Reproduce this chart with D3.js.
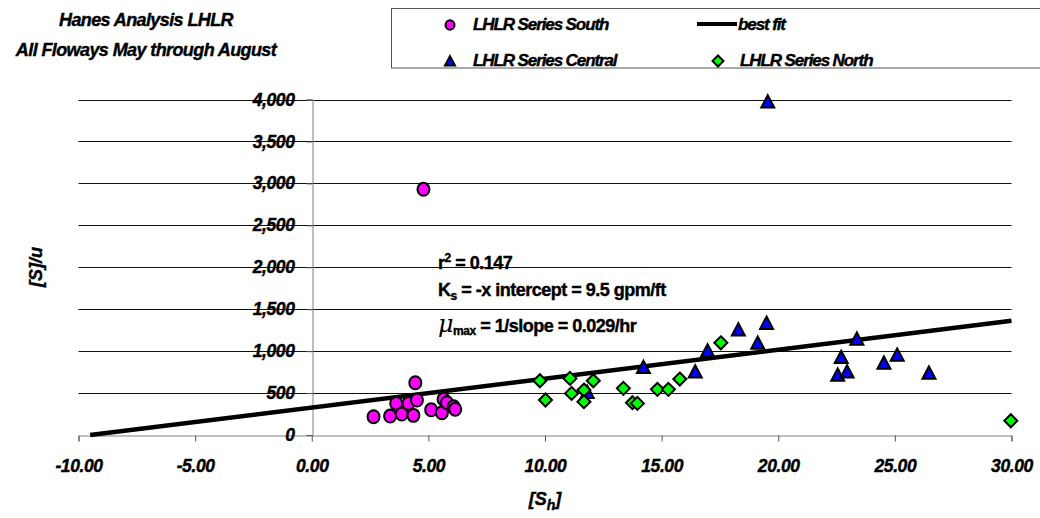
<!DOCTYPE html>
<html>
<head>
<meta charset="utf-8">
<script src="https://cdn.jsdelivr.net/npm/d3@7"></script>
<style>
  body { margin: 0; background: #fff; }
  text { font-family: "Liberation Sans", Arial, sans-serif; font-weight: bold; font-style: italic; fill: #000; stroke: #000; stroke-width: 0.4px; }
  text.up { font-style: normal; }
</style>
</head>
<body>
<svg id="chart" width="1040" height="518"></svg>
<script>
// data
var southX = [2.65, 3.36, 3.62, 3.86, 4.15, 4.36, 4.44, 4.51, 4.79, 5.12, 5.58, 5.65, 5.8, 6.08, 6.15];
var southY = [218, 226, 377, 250, 377, 234, 623, 417, 2929, 300, 265, 425, 385, 337, 306];

var centralX = [11.81, 14.22, 16.44, 16.97, 18.29, 19.12, 19.5, 19.55, 22.55, 22.7, 22.95, 23.37, 24.53, 25.1, 26.46];
var centralY = [496, 794, 742, 992, 1242, 1083, 1321, 3960, 702, 913, 742, 1131, 845, 940, 726];

var northX = [9.78, 10.02, 11.07, 11.14, 11.67, 11.67, 12.07, 13.36, 13.75, 13.96, 14.82, 15.29, 15.78, 17.54, 29.97];
var northY = [647, 417, 675, 496, 536, 397, 647, 556, 385, 377, 544, 544, 667, 1099, 170];

var fitX = [-9.5, 30];
var fitY = [0, 1362];

var xTicks = [-10, -5, 0, 5, 10, 15, 20, 25, 30];
var yTicks = [0, 500, 1000, 1500, 2000, 2500, 3000, 3500, 4000];

var svg = d3.select("#chart");

var x = d3.scaleLinear().domain([-10, 30]).range([78.5, 1011.5]);
var y = d3.scaleLinear().domain([0, 4000]).range([435, 99.5]);

// gridlines
svg.append("g").selectAll("line").data(yTicks.slice(1)).enter().append("line")
  .attr("x1", x(-10)).attr("x2", x(30))
  .attr("y1", function(d){ return Math.round(y(d)) + 0.5; })
  .attr("y2", function(d){ return Math.round(y(d)) + 0.5; })
  .attr("stroke", "#111").attr("stroke-width", 1);

var fmtX = d3.format(".2f");

// x axis
var xAxis = svg.append("g")
  .attr("transform", "translate(0," + (Math.round(y(0)) + 0.5) + ")")
  .call(d3.axisBottom(x).tickValues(xTicks).tickSize(6).tickPadding(18)
    .tickFormat(function(d){ return fmtX(d).replace("\u2212", "-"); }));
xAxis.select(".domain").attr("stroke", "#808080");
xAxis.selectAll(".tick line").attr("stroke", "#555");
xAxis.selectAll(".tick text").attr("font-size", 17.5).attr("font-family", null).attr("letter-spacing", -0.4);

// y axis crossing at x = 0
var yAxis = svg.append("g")
  .attr("transform", "translate(" + (Math.round(x(0)) + 0.5) + ",0)")
  .call(d3.axisLeft(y).tickValues(yTicks).tickSize(6).tickPadding(12)
    .tickFormat(d3.format(",")));
yAxis.select(".domain").attr("stroke", "#808080");
yAxis.selectAll(".tick line").attr("stroke", "#555");
yAxis.selectAll(".tick text").attr("font-size", 17.5).attr("font-family", null).attr("letter-spacing", -0.4);

// axis titles
svg.append("text").attr("x", x(10)).attr("y", 505).attr("text-anchor", "middle")
  .attr("font-size", 18)
  .html('[S<tspan font-size="14" dy="5">h</tspan><tspan dy="-5">]</tspan>');
svg.append("text").attr("transform", "translate(42,267) rotate(-90)")
  .attr("text-anchor", "middle").attr("font-size", 18).text("[S]/u");

// best fit line
svg.append("line")
  .attr("x1", x(fitX[0])).attr("y1", y(fitY[0]))
  .attr("x2", x(fitX[1])).attr("y2", y(fitY[1]))
  .attr("stroke", "#000").attr("stroke-width", 4.5);

// marker shapes
function circlePath(s){ var r = s / 2; return "M" + (-r) + ",0a" + r + "," + (r * 1.08) + " 0 1,0 " + (2 * r) + ",0a" + r + "," + (r * 1.08) + " 0 1,0 " + (-2 * r) + ",0Z"; }
function triPath(s){ var h = s * 0.95; return "M0," + (-h * 0.62) + "L" + (s / 2) + "," + (h * 0.38) + "L" + (-s / 2) + "," + (h * 0.38) + "Z"; }
function diaPath(s){ var r = s / 2; return "M0," + (-r) + "L" + r + ",0L0," + r + "L" + (-r) + ",0Z"; }

function drawSeries(xs, ys, shape, size, fill){
  svg.append("g").selectAll("path").data(d3.zip(xs, ys)).enter().append("path")
    .attr("d", shape(size))
    .attr("transform", function(d){ return "translate(" + x(d[0]) + "," + y(d[1]) + ")"; })
    .attr("fill", fill).attr("stroke", "#000").attr("stroke-width", 2);
}
drawSeries(southX, southY, circlePath, 12, "#ff00ff");
drawSeries(centralX, centralY, triPath, 13, "#0000ff");
drawSeries(northX, northY, diaPath, 13, "#00ff00");

// fit annotation
var ann = svg.append("g").attr("font-size", 18);
ann.append("text").attr("class", "up").attr("x", 438).attr("y", 269).attr("letter-spacing", -0.5)
  .html('r<tspan font-size="12" dy="-7">2</tspan><tspan dy="7"> = 0.147</tspan>');
ann.append("text").attr("class", "up").attr("x", 438).attr("y", 296).attr("letter-spacing", -0.5)
  .html('K<tspan font-size="12" dy="4">s</tspan><tspan dy="-4"> = -x intercept = 9.5 gpm/ft</tspan>');
ann.append("text").attr("class", "up").attr("x", 438).attr("y", 332).attr("letter-spacing", -0.5)
  .html('<tspan font-size="24" font-weight="normal" font-style="italic" font-family="DejaVu Serif" stroke-width="0">μ</tspan><tspan font-size="12" dy="3">max</tspan><tspan dy="-3"> = 1/slope = 0.029/hr</tspan>');

// title
svg.append("text").attr("x", 146).attr("y", 26).attr("text-anchor", "middle")
  .attr("font-size", 18).attr("letter-spacing", -0.6).text("Hanes Analysis LHLR");
svg.append("text").attr("x", 146).attr("y", 56).attr("text-anchor", "middle")
  .attr("font-size", 18).attr("letter-spacing", -0.6).text("All Floways May through August");

// legend
var leg = svg.append("g");
leg.append("rect").attr("x", 391.5).attr("y", 8.5).attr("width", 660).attr("height", 59.5)
  .attr("fill", "#fff").attr("stroke", "#555").attr("stroke-width", 1);
leg.append("path").attr("d", circlePath(9)).attr("transform", "translate(450,25)")
  .attr("fill", "#ff00ff").attr("stroke", "#000").attr("stroke-width", 2);
leg.append("path").attr("d", triPath(10)).attr("transform", "translate(450,62)")
  .attr("fill", "#0000ff").attr("stroke", "#000").attr("stroke-width", 2);
leg.append("path").attr("d", diaPath(11)).attr("transform", "translate(718,61)")
  .attr("fill", "#00ff00").attr("stroke", "#000").attr("stroke-width", 2);
leg.append("line").attr("x1", 697).attr("x2", 737).attr("y1", 24).attr("y2", 24)
  .attr("stroke", "#000").attr("stroke-width", 4);
var legText = [["LHLR Series South", 473, 31], ["LHLR Series Central", 473, 67], ["best fit", 738, 31], ["LHLR Series North", 740, 67]];
leg.selectAll("text.lt").data(legText).enter().append("text").attr("class", "lt")
  .attr("x", function(d){ return d[1]; }).attr("y", function(d){ return d[2] - 1; })
  .attr("font-size", 17).attr("letter-spacing", -1.1).text(function(d){ return d[0]; });
</script>
</body>
</html>
